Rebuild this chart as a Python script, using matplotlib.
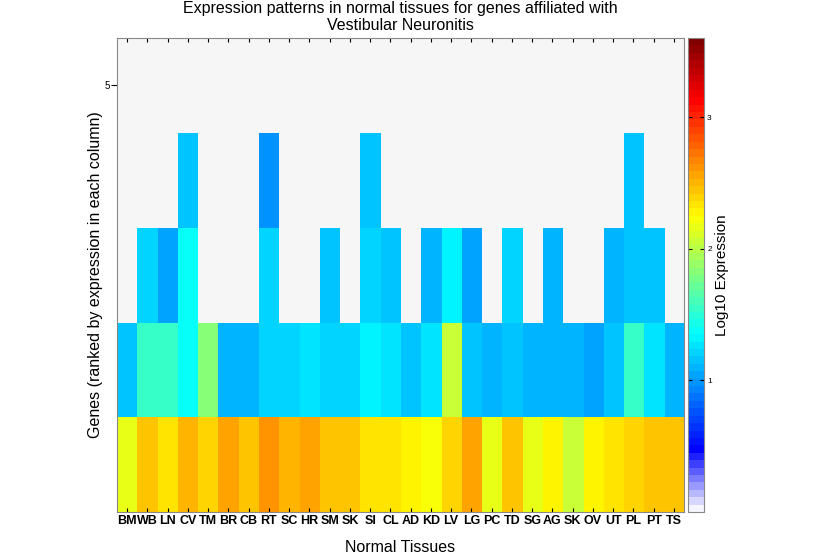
"""Heatmap of tissue expression for genes affiliated with Vestibular Neuronitis."""
import matplotlib

matplotlib.use("Agg")
import matplotlib.pyplot as plt
import numpy as np
from matplotlib.colors import ListedColormap

plt.rcParams["font.family"] = ["Liberation Sans", "DejaVu Sans"]

TISSUES = ["BM", "WB", "LN", "CV", "TM", "BR", "CB", "RT", "SC", "HR", "SM", "SK",
           "SI", "CL", "AD", "KD", "LV", "LG", "PC", "TD", "SG", "AG", "SK", "OV",
           "UT", "PL", "PT", "TS"]

nan = np.nan
# log10 expression, rank 1 (highest) at the bottom
RANK1 = [2.19, 2.46, 2.31, 2.49, 2.37, 2.55, 2.43, 2.61, 2.49, 2.55, 2.43, 2.43,
         2.34, 2.34, 2.25, 2.20, 2.37, 2.55, 2.19, 2.47, 2.19, 2.25, 2.07, 2.25,
         2.31, 2.37, 2.43, 2.43]
RANK2 = [1.17, 1.53, 1.53, 1.35, 1.83, 1.11, 1.11, 1.23, 1.23, 1.29, 1.23, 1.23,
         1.31, 1.25, 1.17, 1.24, 2.07, 1.17, 1.08, 1.17, 1.09, 1.09, 1.09, 1.04,
         1.15, 1.53, 1.24, 1.10]
RANK3 = [nan, 1.23, 1.04, 1.35, nan, nan, nan, 1.23, nan, nan, 1.17, nan,
         1.23, 1.17, nan, 1.12, 1.30, 1.04, nan, 1.23, nan, 1.12, nan, nan,
         1.12, 1.17, 1.17, nan]
RANK4 = [nan, nan, nan, 1.17, nan, nan, nan, 0.99, nan, nan, nan, nan,
         1.17, nan, nan, nan, nan, nan, nan, nan, nan, nan, nan, nan,
         nan, 1.17, nan, nan]
RANK5 = [nan] * len(TISSUES)

VMIN, VMAX = 0.0, 3.6


def faded_jet(n=64, n_fade=8):
    """MATLAB-style jet with its dark-blue foot replaced by a white-to-blue fade."""
    x = np.linspace(0, 1, n)
    r = np.clip(1.5 - np.abs(4 * x - 3), 0, 1)
    g = np.clip(1.5 - np.abs(4 * x - 2), 0, 1)
    b = np.clip(1.5 - np.abs(4 * x - 1), 0, 1)
    cols = np.column_stack([r, g, b, np.ones(n)])
    blue = cols[n_fade].copy()
    white = np.array([0.96, 0.96, 1.0, 1.0])
    for i in range(n_fade):
        t = i / n_fade
        cols[i] = white * (1 - t) + blue * t
    return ListedColormap(cols)


fig = plt.figure(figsize=(8.2, 5.55), dpi=100)
ax = fig.add_axes([0.1427, 0.0775, 0.6915, 0.854])
cax = fig.add_axes([0.8395, 0.0775, 0.0195, 0.854])

grid = np.ma.masked_invalid(np.array([RANK1, RANK2, RANK3, RANK4, RANK5]))
n = len(TISSUES)
ax.set_facecolor("#f6f6f6")
im = ax.imshow(grid, cmap=faded_jet(), vmin=VMIN, vmax=VMAX, origin="lower",
               aspect="auto", interpolation="nearest",
               extent=(0.5, n + 0.5, 0.5, 5.5))

ax.set_xlim(0.5, n + 0.5)
ax.set_ylim(0.5, 5.5)
ax.set_xticks(np.arange(1, n + 1))
ax.set_xticklabels(TISSUES, fontsize=9, fontweight="bold")
ax.set_yticks([5])
ax.set_yticklabels(["5"], fontsize=7)
ax.tick_params(axis="x", direction="in", length=3, top=True, pad=2)
ax.tick_params(axis="y", direction="out", length=4, pad=1)
for s in ax.spines.values():
    s.set_color("#888888")
    s.set_linewidth(0.8)

ax.set_xlabel("Normal Tissues", fontsize=11.5)
ax.xaxis.set_label_coords(0.5, -0.059)
ax.set_ylabel("Genes (ranked by expression in each column)", fontsize=11.5)
ax.yaxis.set_label_coords(-0.024, 0.5)
ax.set_title("Expression patterns in normal tissues for genes affiliated with\n"
             "Vestibular Neuronitis", fontsize=11.5, pad=6, linespacing=1.1)

cb = fig.colorbar(im, cax=cax)
cb.set_ticks([1, 2, 3])
cb.ax.tick_params(labelsize=6, direction="in", length=3, left=True, right=True, pad=2)
cb.outline.set_edgecolor("#888888")
cb.outline.set_linewidth(0.8)
cb.set_label("Log10 Expression", fontsize=11, labelpad=2)

fig.savefig("out.png", dpi=100)
